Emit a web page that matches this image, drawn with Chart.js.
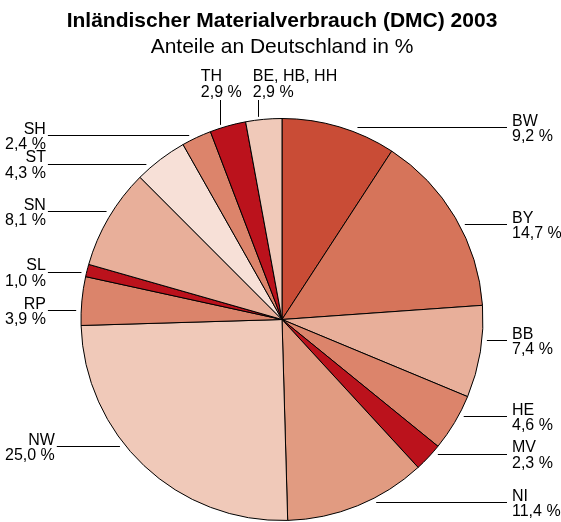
<!DOCTYPE html>
<html>
<head>
<meta charset="utf-8">
<script src="https://cdn.jsdelivr.net/npm/chart.js@4.4.1/dist/chart.umd.min.js"></script>
<style>
    html, body { margin: 0; padding: 0; background: #fff; }
</style>
</head>
<body>
<canvas id="dmcChart" width="561" height="522"></canvas>
<script>
// Anteile der Länder am DMC Deutschlands 2003, im Uhrzeigersinn ab 12 Uhr
const laender = ['BW', 'BY', 'BB', 'HE', 'MV', 'NI', 'NW', 'RP', 'SL', 'SN', 'ST', 'SH', 'TH', 'BE, HB, HH'];
const anteile = [9.2, 14.7, 7.4, 4.6, 2.3, 11.4, 25.0, 3.9, 1.0, 8.1, 4.3, 2.4, 2.9, 2.9];
const farben = ['#c94c36', '#d6745a', '#e8af9a', '#dc846b', '#bb121c', '#e19b81', '#f0c9b9',
                '#db846b', '#bb121c', '#e8af9a', '#f7e0d7', '#dc846b', '#bb121c', '#f0c9b9'];

// kleine Verschiebungen der Beschriftungen gegenüber der Segmentmitte
const labelNudge = {
    'BW': { dy: 1 }, 'BY': { dy: 7 }, 'BB': { dy: -11 }, 'HE': { dy: -6 }, 'MV': { dy: -3 },
    'NI': { dy: -3 }, 'NW': { dy: -19 }, 'RP': { dy: 10 }, 'SL': { dy: 2 }, 'SN': { dy: -6 },
    'ST': { dy: 5 }, 'SH': { dy: -2 },
    'TH': { dx: -7, tx: -20 }, 'BE, HB, HH': { dx: -5, tx: -6 }
};

const FONT = "'Liberation Sans', Arial, sans-serif";

function formatWert(v) {
    return v.toFixed(1).replace('.', ',') + ' %';
}

function px(v) {
    return Math.floor(v) + 0.5;
}

const leaderLabels = {
    id: 'leaderLabels',
    afterDatasetsDraw: function (chart) {
        const { ctx, chartArea } = chart;
        const arcs = chart.getDatasetMeta(0).data;
        ctx.save();
        ctx.font = '16px ' + FONT;
        ctx.fillStyle = '#000';
        ctx.strokeStyle = '#000';
        ctx.lineWidth = 1;
        ctx.textBaseline = 'alphabetic';

        arcs.forEach((arc, i) => {
            const { x, y, startAngle, endAngle, outerRadius } =
                arc.getProps(['x', 'y', 'startAngle', 'endAngle', 'outerRadius'], true);
            const mid = (startAngle + endAngle) / 2;
            const r = outerRadius;
            const name = laender[i];
            const wert = formatWert(anteile[i]);
            const nudge = labelNudge[name] || {};

            if (-Math.sin(mid) > 0.96) {
                // Beschriftung oberhalb, senkrechte Linie
                const lineX = x + Math.cos(mid) * r + (nudge.dx || 0);
                const lineTop = chartArea.top - 18;
                const lineBottom = y - Math.sqrt(Math.pow(r + 3, 2) - Math.pow(lineX - x, 2));
                ctx.beginPath();
                ctx.moveTo(px(lineX), lineTop);
                ctx.lineTo(px(lineX), lineBottom);
                ctx.stroke();
                const tx = lineX + (nudge.tx || 0);
                ctx.textAlign = 'left';
                ctx.fillText(wert, tx, lineTop - 3.5);
                ctx.fillText(name, tx, lineTop - 19);
                return;
            }

            const ly = y + Math.sin(mid) * r + (nudge.dy || 0);
            const rim = Math.sqrt(Math.max(Math.pow(r + 5, 2) - Math.pow(ly - y, 2), 0));
            if (Math.cos(mid) > 0) {
                const labelX = x + r + 29;
                ctx.beginPath();
                ctx.moveTo(x + rim, px(ly));
                ctx.lineTo(labelX - 5, px(ly));
                ctx.stroke();
                ctx.textAlign = 'left';
                ctx.fillText(name, labelX, ly - 2);
                ctx.fillText(wert, labelX, ly + 13.5);
            } else {
                const blockW = Math.max(ctx.measureText(name).width, ctx.measureText(wert).width);
                const right = 5 + blockW;
                ctx.beginPath();
                ctx.moveTo(right + 2, px(ly));
                ctx.lineTo(x - rim, px(ly));
                ctx.stroke();
                ctx.textAlign = 'right';
                ctx.fillText(name, right, ly - 2);
                ctx.fillText(wert, right, ly + 13.5);
            }
        });
        ctx.restore();
    }
};

const ctx = document.getElementById('dmcChart').getContext('2d');
const dmcChart = new Chart(ctx, {
    type: 'pie',
    data: {
        labels: laender,
        datasets: [{
            data: anteile,
            backgroundColor: farben,
            borderColor: '#000',
            borderWidth: 1
        }]
    },
    options: {
        responsive: false,
        animation: false,
        events: [],
        layout: {
            padding: { left: 3, right: 0, top: 0, bottom: 1 }
        },
        plugins: {
            legend: { display: false },
            tooltip: { enabled: false },
            title: {
                display: true,
                text: 'Inländischer Materialverbrauch (DMC) 2003',
                color: '#000',
                font: { family: FONT, size: 21, weight: 'bold' },
                padding: { top: 9, bottom: 0 }
            },
            subtitle: {
                display: true,
                text: 'Anteile an Deutschland in %',
                color: '#000',
                font: { family: FONT, size: 21, weight: 'normal' },
                padding: { top: 0, bottom: 58.6 }
            }
        }
    },
    plugins: [leaderLabels]
});
</script>
</body>
</html>
